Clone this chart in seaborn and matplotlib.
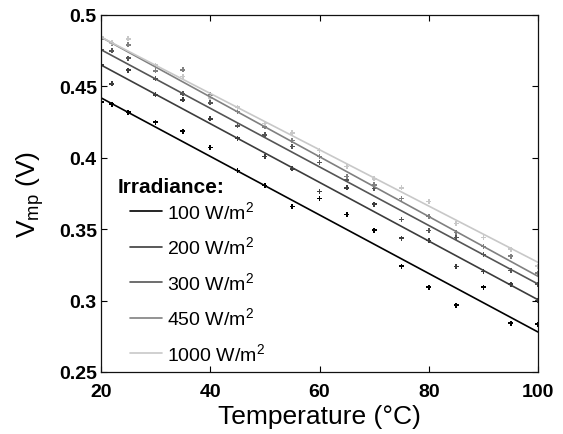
import numpy as np
import pandas as pd
import matplotlib
matplotlib.use('Agg')
import matplotlib.pyplot as plt
import seaborn as sns

# Measured points, one list per irradiance level
temps = [20, 22, 25, 30, 35, 40, 45, 50, 55, 60, 65, 70, 75, 80, 85, 90, 95, 100]
v_100 = [0.4389, 0.4375, 0.4319, 0.4249, 0.4186, 0.4073, 0.3910, 0.3805, 0.3660,
         0.3716, 0.3602, 0.3494, 0.3240, 0.3093, 0.2969, 0.3093, 0.2841, 0.2836]
v_200 = [0.4650, 0.4517, 0.4613, 0.4442, 0.4405, 0.4272, 0.4137, 0.4008, 0.3922,
         0.3765, 0.3789, 0.3676, 0.3438, 0.3420, 0.3238, 0.3203, 0.3116, 0.3000]
v_300 = [0.4757, 0.4750, 0.4697, 0.4552, 0.4449, 0.4384, 0.4225, 0.4160, 0.4078,
         0.3968, 0.3845, 0.3786, 0.3567, 0.3490, 0.3443, 0.3322, 0.3210, 0.3116]
v_450 = [0.4832, 0.4803, 0.4792, 0.4610, 0.4615, 0.4440, 0.4324, 0.4218, 0.4120,
         0.4010, 0.3868, 0.3810, 0.3716, 0.3590, 0.3478, 0.3380, 0.3310, 0.3191]
v_1000 = [0.4845, 0.4805, 0.4832, 0.4648, 0.4570, 0.4419, 0.4354, 0.4240, 0.4174,
          0.4050, 0.3940, 0.3852, 0.3789, 0.3693, 0.3541, 0.3443, 0.3361, 0.3240]

# Linear fits, read at the two ends of the axis
fit_temps = [20, 100]
fit_100 = [0.442, 0.278]
fit_200 = [0.465, 0.3006]
fit_300 = [0.4757, 0.3116]
fit_450 = [0.4845, 0.317]
fit_1000 = [0.4845, 0.3268]

labels = ['100 W/m$^2$', '200 W/m$^2$', '300 W/m$^2$', '450 W/m$^2$', '1000 W/m$^2$']
colors = ['#000000', '#3c3c3c', '#555555', '#808080', '#c8c8c8']

points = [v_100, v_200, v_300, v_450, v_1000]
fits = [fit_100, fit_200, fit_300, fit_450, fit_1000]

df_pts = pd.concat([pd.DataFrame({'T': temps, 'V': v, 'irr': lab})
                    for v, lab in zip(points, labels)])
df_fit = pd.concat([pd.DataFrame({'T': fit_temps, 'V': f, 'irr': lab})
                    for f, lab in zip(fits, labels)])

sns.set_style('ticks')
plt.rcParams['font.family'] = ['Liberation Sans', 'DejaVu Sans']
plt.rcParams['mathtext.fontset'] = 'custom'
plt.rcParams['mathtext.default'] = 'regular'
plt.rcParams['text.color'] = 'black'
plt.rcParams['axes.labelcolor'] = 'black'
plt.rcParams['xtick.color'] = 'black'
plt.rcParams['ytick.color'] = 'black'

fig = plt.figure(figsize=(5.63, 4.35), dpi=100)
ax = fig.add_axes([101 / 563, 1 - 373 / 435, 437 / 563, 357 / 435])

palette = dict(zip(labels, colors))
sns.lineplot(data=df_fit, x='T', y='V', hue='irr', palette=palette,
             hue_order=labels, linewidth=1.2, ax=ax)
sns.scatterplot(data=df_pts, x='T', y='V', hue='irr', palette=palette,
                hue_order=labels, marker='P', s=13, linewidth=0,
                legend=False, ax=ax)

ax.set_xlim(20, 100)
ax.set_ylim(0.25, 0.5)
ax.set_xticks([20, 40, 60, 80, 100])
ax.set_yticks([0.25, 0.3, 0.35, 0.4, 0.45, 0.5])
ax.set_yticklabels(['0.25', '0.3', '0.35', '0.4', '0.45', '0.5'])
ax.tick_params(direction='in', length=4, width=0.8, top=True, right=True,
               labelsize=14)
ax.tick_params(axis='x', pad=8)
ax.tick_params(axis='y', pad=3)
for t in ax.get_xticklabels() + ax.get_yticklabels():
    t.set_fontweight('bold')
for s in ax.spines.values():
    s.set_linewidth(0.9)
    s.set_color('#111111')

ax.set_xlabel('Temperature (°C)', fontsize=19, labelpad=3)
ax.set_ylabel('$V_{mp}$ (V)', fontsize=19, labelpad=9)

# legend title drawn as its own text so it can sit closer to the entries
ax.text(0.037, 0.521, 'Irradiance:', transform=ax.transAxes, fontsize=15,
        fontweight='bold', ha='left', va='center')
handles, _ = ax.get_legend_handles_labels()
leg = ax.legend(handles, labels, loc='upper left',
                bbox_to_anchor=(0.066, 0.482), frameon=False, fontsize=14,
                handlelength=1.65, handletextpad=0.26, labelspacing=0.70,
                borderpad=0, borderaxespad=0)

fig.savefig('out.png', dpi=100)
